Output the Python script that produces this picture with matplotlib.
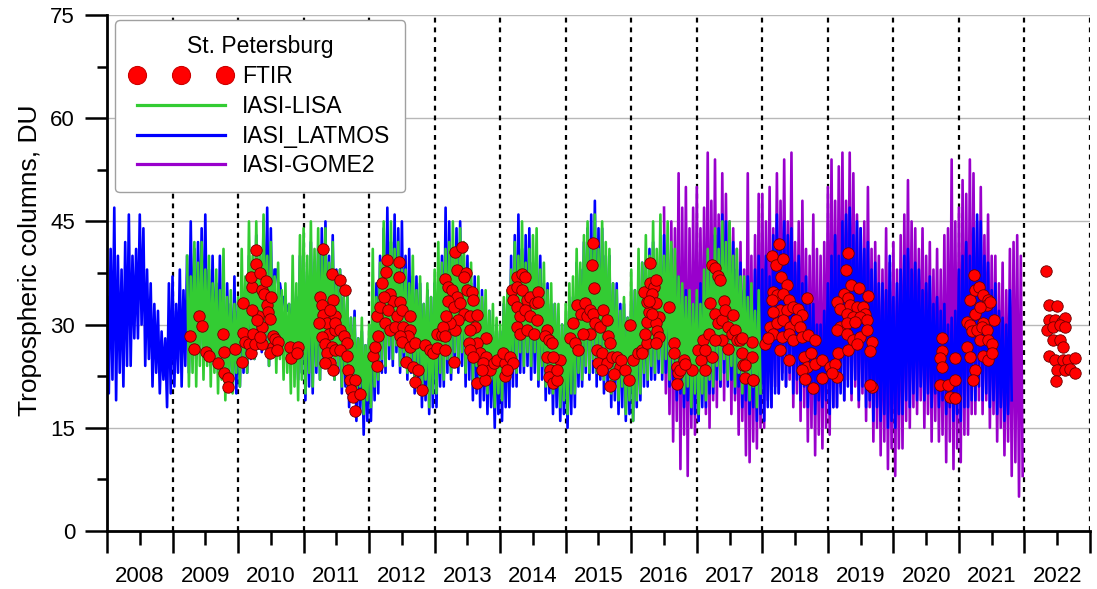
import numpy as np
import matplotlib
matplotlib.use("Agg")
import matplotlib.pyplot as plt
from matplotlib.lines import Line2D
from matplotlib.ticker import MultipleLocator

plt.rcParams['font.family'] = ['Liberation Sans', 'DejaVu Sans']

# ---------------- data ----------------
# Satellite series: per ~20-day bin, upper and lower value of the noisy band
PER_YEAR = 18

blue_start = 2008.0
blue_hi = [
    34, 41, 47, 40, 38, 42, 46, 40, 41, 46, 44, 38, 36, 33, 32, 29, 28, 36,   # 2008
    37, 33, 38, 35, 40, 45, 41, 42, 44, 46, 38, 40, 36, 40, 34, 36, 33, 37,   # 2009
    33, 36, 35, 40, 38, 43, 40, 45, 47, 44, 38, 36, 34, 32, 33, 35, 34, 40,   # 2010
    41, 37, 42, 39, 41, 44, 45, 40, 43, 38, 38, 34, 34, 31, 32, 28, 29, 27,   # 2011
    28, 33, 36, 40, 44, 47, 42, 46, 44, 45, 40, 41, 37, 37, 36, 33, 35, 34,   # 2012
    36, 34, 40, 47, 45, 41, 44, 45, 40, 40, 36, 37, 34, 35, 31, 32, 29, 30,   # 2013
    29, 33, 34, 40, 43, 46, 41, 43, 44, 39, 41, 40, 36, 36, 33, 33, 30, 30,   # 2014
    30, 33, 34, 39, 38, 42, 44, 46, 48, 44, 44, 40, 40, 36, 36, 33, 33, 31,   # 2015
    33, 35, 34, 39, 37, 41, 42, 39, 42, 43, 40, 41, 37, 37, 34, 35, 32, 33,   # 2016
    34, 36, 35, 40, 39, 43, 44, 46, 45, 41, 42, 38, 39, 35, 37, 34, 38, 40,   # 2017
    38, 40, 37, 43, 46, 42, 45, 43, 44, 39, 40, 36, 37, 33, 33, 30, 30, 32,   # 2018
    36, 40, 43, 40, 45, 46, 47, 43, 45, 44, 41, 42, 38, 39, 36, 36, 35, 40,   # 2019
    34, 36, 38, 40, 41, 38, 39, 38, 35, 36, 37, 33, 34, 32, 33, 30, 31, 32,   # 2020
    38, 40, 42, 40, 44, 46, 45, 40, 39, 35, 36, 32, 31, 30, 35,               # 2021
]
blue_lo = [
    20, 22, 19, 23, 21, 24, 24, 28, 28, 30, 24, 25, 21, 23, 20, 22, 18, 20,   # 2008
    21, 23, 21, 24, 23, 25, 25, 26, 24, 26, 24, 25, 23, 24, 22, 23, 21, 20,   # 2009
    21, 23, 23, 25, 25, 27, 26, 27, 24, 26, 38, 36, 34, 32, 26, 25, 22, 23,   # 2010
    19, 21, 20, 23, 22, 24, 24, 25, 22, 23, 20, 21, 18, 19, 16, 17, 14, 16,   # 2011
    16, 19, 20, 23, 23, 25, 24, 26, 23, 24, 22, 23, 20, 21, 18, 19, 17, 18,   # 2012
    18, 21, 21, 23, 22, 24, 23, 24, 21, 22, 19, 20, 18, 19, 17, 18, 15, 17,   # 2013
    16, 18, 18, 21, 21, 23, 23, 24, 22, 23, 21, 22, 19, 20, 17, 18, 16, 17,   # 2014
    15, 17, 18, 21, 21, 23, 22, 23, 21, 22, 20, 21, 18, 19, 17, 18, 16, 17,   # 2015
    16, 18, 19, 21, 21, 22, 22, 23, 22, 23, 21, 22, 19, 20, 18, 19, 17, 17,   # 2016
    16, 18, 18, 20, 20, 22, 21, 23, 21, 22, 20, 21, 18, 19, 17, 18, 16, 17,   # 2017
    16, 18, 18, 20, 20, 22, 21, 23, 20, 22, 19, 21, 18, 20, 17, 19, 18, 19,   # 2018
    17, 18, 18, 20, 19, 21, 20, 22, 19, 21, 18, 19, 16, 18, 16, 17, 15, 16,   # 2019
    15, 17, 17, 19, 18, 20, 19, 21, 19, 20, 18, 20, 18, 19, 17, 18, 16, 17,   # 2020
    16, 18, 18, 19, 19, 21, 19, 20, 18, 19, 17, 18, 16, 17, 19,               # 2021
]

green_start = 2009.0 + 4 / 18
green_hi = [
    40, 37, 42, 39, 42, 38, 40, 36, 38, 35, 41, 34, 35, 33,                   # 2009
    34, 41, 37, 45, 40, 45, 41, 46, 40, 42, 37, 39, 35, 36, 33, 40, 36, 43,   # 2010
    44, 40, 45, 41, 44, 40, 44, 39, 42, 37, 38, 34, 35, 31, 31, 28, 31, 27,   # 2011
    30, 41, 34, 39, 45, 40, 45, 41, 42, 38, 38, 36, 40, 35, 37, 33, 36, 34,   # 2012
    38, 42, 39, 41, 42, 45, 41, 44, 42, 38, 39, 35, 37, 34, 35, 32, 33, 31,   # 2013
    30, 34, 35, 38, 42, 40, 45, 39, 41, 43, 44, 38, 39, 35, 36, 33, 33, 30,   # 2014
    33, 36, 37, 41, 39, 43, 45, 42, 46, 41, 45, 42, 41, 36, 35, 32, 34, 31,   # 2015
    38, 35, 41, 39, 43, 40, 45, 41, 46, 40, 45, 42, 41, 37, 36, 34, 35, 33,   # 2016
    35, 33, 38, 41, 39, 44, 41, 45, 42, 45, 40, 41, 37, 37, 34, 36, 32, 35,   # 2017
]
green_lo = [
    21, 23, 21, 24, 22, 24, 21, 23, 20, 22, 19, 22, 20, 23,                   # 2009
    21, 24, 23, 26, 25, 28, 27, 28, 24, 26, 23, 25, 22, 23, 20, 21, 19, 22,   # 2010
    20, 23, 21, 24, 22, 25, 24, 26, 22, 24, 21, 23, 20, 22, 19, 21, 17, 19,   # 2011
    18, 21, 22, 25, 24, 27, 25, 27, 24, 26, 23, 25, 22, 24, 20, 22, 18, 20,   # 2012
    20, 23, 22, 25, 23, 26, 24, 26, 23, 25, 22, 24, 21, 23, 20, 22, 18, 20,   # 2013
    19, 22, 22, 24, 23, 26, 24, 26, 24, 26, 22, 24, 21, 23, 20, 21, 18, 19,   # 2014
    17, 20, 20, 23, 22, 24, 23, 25, 23, 25, 22, 24, 20, 22, 19, 21, 17, 19,   # 2015
    16, 19, 20, 23, 22, 24, 23, 25, 23, 25, 22, 24, 21, 23, 20, 21, 18, 20,   # 2016
    17, 20, 19, 22, 21, 24, 22, 25, 22, 24, 21, 23, 20, 22, 19, 21, 18, 20,   # 2017
]

purple_start = 2016.5
purple_hi = [
    47, 41, 45, 44, 52, 47, 50, 44, 47,                                       # 2016
    50, 44, 47, 55, 48, 54, 46, 52, 49, 45, 44, 41, 42, 38, 52, 40, 43, 49,   # 2017
    49, 45, 50, 44, 52, 48, 54, 45, 55, 42, 45, 48, 41, 40, 46, 41, 40, 42,   # 2018
    50, 54, 48, 53, 55, 48, 55, 52, 46, 44, 45, 50, 41, 42, 40, 38, 44, 39,   # 2019
    42, 38, 43, 46, 51, 45, 44, 41, 44, 40, 42, 38, 41, 38, 43, 44, 54, 45,   # 2020
    47, 51, 49, 54, 52, 45, 50, 43, 46, 40, 40, 36, 39, 35, 41, 42, 43, 40,   # 2021
]
purple_lo = [
    20, 17, 13, 16, 9, 14, 8, 15, 14,                                         # 2016
    16, 20, 17, 15, 19, 18, 21, 19, 22, 17, 19, 14, 16, 11, 10, 13, 12, 15,   # 2017
    15, 19, 18, 21, 20, 23, 21, 22, 18, 20, 16, 18, 13, 15, 11, 14, 12, 15,   # 2018
    14, 18, 18, 21, 19, 22, 19, 21, 18, 20, 16, 18, 13, 15, 11, 13, 9, 12,    # 2019
    8, 12, 12, 16, 15, 18, 17, 19, 15, 17, 13, 16, 13, 14, 10, 13, 9, 12,     # 2020
    10, 14, 14, 17, 17, 19, 17, 19, 15, 17, 13, 15, 11, 13, 8, 10, 5, 8,      # 2021
]

# FTIR observations (decimal year, DU)
ftir_t = [
    2009.26, 2009.41, 2009.45, 2009.32, 2009.51, 2009.55, 2009.70, 2009.77, 2009.78, 2009.79, 2009.84, 2009.85, 2009.95,
    2010.06, 2010.08, 2010.08, 2010.11, 2010.16, 2010.19, 2010.21, 2010.19, 2010.28, 2010.28, 2010.33, 2010.36, 2010.40,
    2010.42, 2010.44, 2010.46, 2010.49, 2010.51, 2010.53, 2010.53, 2010.49, 2010.36, 2010.31, 2010.23, 2010.26, 2010.36,
    2010.21, 2010.33, 2010.29, 2010.57, 2010.61, 2010.59, 2010.79, 2010.81, 2010.92, 2010.90,
    2011.30, 2011.25, 2011.28, 2011.30, 2011.35, 2011.23, 2011.38, 2011.28, 2011.33, 2011.43, 2011.35, 2011.40, 2011.45,
    2011.33, 2011.48, 2011.48, 2011.48, 2011.43, 2011.56, 2011.63, 2011.45, 2011.40, 2011.48, 2011.56, 2011.61, 2011.66,
    2011.56, 2011.66, 2011.68, 2011.71, 2011.79, 2011.73, 2011.76, 2011.86, 2011.79,
    2012.06, 2012.12, 2012.09, 2012.14, 2012.12, 2012.17, 2012.19, 2012.27, 2012.26, 2012.45, 2012.46, 2012.32, 2012.37,
    2012.22, 2012.29, 2012.42, 2012.47, 2012.50, 2012.24, 2012.32, 2012.40, 2012.52, 2012.62, 2012.62, 2012.60, 2012.47,
    2012.50, 2012.62, 2012.70, 2012.57, 2012.67, 2012.75, 2012.70, 2012.80, 2012.85, 2012.93, 2012.98,
    2013.03, 2013.03, 2013.11, 2013.16, 2013.29, 2013.16, 2013.21, 2013.26, 2013.31, 2013.41, 2013.34, 2013.48, 2013.44,
    2013.49, 2013.57, 2013.59, 2013.34, 2013.21, 2013.29, 2013.39, 2013.44, 2013.54, 2013.64, 2013.62, 2013.54, 2013.36,
    2013.31, 2013.23, 2013.13, 2013.16, 2013.18, 2013.79, 2013.64, 2013.69, 2013.79, 2013.74, 2013.85, 2013.90, 2013.64,
    2013.77, 2013.52, 2013.54, 2013.59, 2013.72, 2013.95,
    2014.07, 2014.07, 2014.05, 2014.15, 2014.20, 2014.10, 2014.18, 2014.25, 2014.33, 2014.38, 2014.25, 2014.33, 2014.41,
    2014.46, 2014.58, 2014.20, 2014.25, 2014.30, 2014.38, 2014.46, 2014.53, 2014.58, 2014.25, 2014.30, 2014.41, 2014.51,
    2014.56, 2014.71, 2014.68, 2014.74, 2014.71, 2014.76, 2014.74, 2014.81, 2014.86, 2014.91, 2014.86, 2014.79, 2014.81,
    2015.07, 2015.14, 2015.19, 2015.17, 2015.29, 2015.24, 2015.32, 2015.37, 2015.42, 2015.40, 2015.42, 2015.43, 2015.45,
    2015.52, 2015.57, 2015.63, 2015.65, 2015.68, 2015.47, 2015.55, 2015.50, 2015.63, 2015.70, 2015.78, 2015.83, 2015.85,
    2015.68, 2015.73, 2015.91, 2015.96, 2015.98, 2015.55, 2015.37, 2015.27, 2015.11,
    2016.03, 2016.11, 2016.16, 2016.16, 2016.24, 2016.21, 2016.24, 2016.27, 2016.24, 2016.19, 2016.29, 2016.34, 2016.37,
    2016.29, 2016.32, 2016.37, 2016.42, 2016.37, 2016.39, 2016.42, 2016.37, 2016.32, 2016.27, 2016.57, 2016.65, 2016.65,
    2016.70, 2016.72, 2016.70, 2016.75, 2016.80, 2016.93, 2016.82,
    2017.02, 2017.07, 2017.12, 2017.10, 2017.18, 2017.20, 2017.23, 2017.28, 2017.33, 2017.36, 2017.28, 2017.33, 2017.38,
    2017.41, 2017.43, 2017.48, 2017.53, 2017.56, 2017.58, 2017.61, 2017.48, 2017.66, 2017.69, 2017.71, 2017.74, 2017.84,
    2017.84, 2017.86, 2017.38, 2017.28, 2017.23, 2017.12, 2017.69, 2017.74, 2017.85,
    2018.04, 2018.25, 2018.15, 2018.21, 2018.31, 2018.29, 2018.37, 2018.17, 2018.22, 2018.14, 2018.32, 2018.40, 2018.27,
    2018.17, 2018.37, 2018.47, 2018.55, 2018.60, 2018.68, 2018.12, 2018.22, 2018.32, 2018.42, 2018.52, 2018.58, 2018.17,
    2018.30, 2018.40, 2018.47, 2018.60, 2018.70, 2018.80, 2018.27, 2018.40, 2018.09, 2018.63, 2018.75, 2018.68, 2018.80,
    2018.91, 2018.60, 2018.65, 2018.78, 2018.91,
    2019.03, 2019.11, 2019.14, 2019.06, 2019.16, 2019.31, 2019.28, 2019.36, 2019.47, 2019.62, 2019.24, 2019.31, 2019.14,
    2019.19, 2019.34, 2019.44, 2019.54, 2019.57, 2019.29, 2019.39, 2019.49, 2019.19, 2019.29, 2019.42, 2019.59, 2019.14,
    2019.29, 2019.39, 2019.49, 2019.59, 2019.67, 2019.31, 2019.44, 2019.64, 2019.67, 2019.64,
    2020.74, 2020.74, 2020.71, 2020.74, 2020.94, 2020.71, 2020.84, 2020.94, 2020.86, 2020.94,
    2021.23, 2021.17, 2021.25, 2021.30, 2021.37, 2021.45, 2021.43, 2021.48, 2021.25, 2021.32, 2021.53, 2021.37, 2021.12,
    2021.17, 2021.20, 2021.27, 2021.35, 2021.43, 2021.32, 2021.45, 2021.50, 2021.12, 2021.17, 2021.37, 2021.45, 2021.25,
    2021.22, 2021.50,
    2022.33, 2022.38, 2022.50, 2022.37, 2022.47, 2022.57, 2022.62, 2022.34, 2022.44, 2022.54, 2022.62, 2022.44, 2022.54,
    2022.59, 2022.37, 2022.47, 2022.59, 2022.67, 2022.77, 2022.49, 2022.62, 2022.70, 2022.77, 2022.48,
]
ftir_v = [
    28.4, 31.3, 29.8, 26.4, 26.0, 25.4, 24.4, 28.6, 26.0, 23.0, 22.3, 21.0, 26.4,
    24.5, 33.1, 28.8, 27.5, 27.2, 25.8, 35.5, 36.9, 40.8, 38.8, 37.5, 35.0, 34.5,
    36.3, 32.8, 31.9, 30.8, 34.0, 28.4, 26.8, 25.8, 29.7, 31.2, 28.7, 27.2, 27.2,
    32.1, 28.2, 30.7, 27.9, 27.5, 26.3, 26.8, 25.1, 26.7, 25.8,
    41.0, 34.0, 32.8, 31.4, 30.2, 30.2, 28.7, 28.2, 27.2, 26.8, 25.8, 24.4, 23.4,
    24.4, 31.2, 29.2, 26.3, 37.4, 36.5, 35.0, 33.6, 32.1, 30.2, 29.2, 28.3, 27.3,
    26.3, 25.4, 23.4, 22.0, 22.0, 20.5, 19.5, 19.9, 17.5,
    25.4, 24.0, 26.8, 28.3, 31.2, 32.6, 36.0, 39.4, 37.7, 39.1, 36.9, 34.5, 33.5,
    34.0, 32.1, 31.2, 33.3, 32.1, 30.2, 29.2, 29.7, 29.7, 31.2, 29.2, 28.3, 28.3,
    27.5, 26.8, 27.3, 24.6, 23.9, 23.4, 21.7, 20.5, 27.0, 26.3, 25.8,
    26.6, 28.7, 28.5, 26.3, 24.6, 36.7, 35.5, 35.0, 40.6, 41.3, 37.9, 37.5, 36.9,
    35.0, 34.8, 33.6, 34.0, 33.5, 32.6, 33.1, 31.6, 31.2, 31.4, 29.7, 29.2, 30.7,
    29.2, 30.2, 29.7, 28.3, 31.2, 28.0, 27.3, 25.8, 25.3, 24.4, 23.4, 24.4, 21.5,
    22.0, 27.3, 26.3, 25.3, 23.4, 24.9,
    22.6, 24.4, 25.8, 25.3, 24.4, 23.4, 35.0, 36.9, 37.4, 36.9, 35.5, 35.0, 33.6,
    34.0, 34.8, 33.6, 32.6, 31.2, 32.1, 31.2, 33.1, 33.3, 29.7, 28.7, 29.2, 28.7,
    30.7, 29.2, 28.3, 27.8, 25.3, 23.4, 22.4, 21.5, 22.0, 24.8, 23.4, 27.3, 25.3,
    28.0, 27.3, 26.3, 32.8, 33.1, 31.6, 31.2, 32.1, 31.6, 38.6, 41.8, 35.3, 30.2,
    29.7, 32.1, 30.7, 28.3, 27.3, 26.3, 25.8, 24.4, 24.4, 25.3, 25.3, 23.9, 24.8,
    21.1, 22.8, 23.4, 22.0, 29.9, 23.4, 28.7, 28.7, 30.2,
    24.8, 25.8, 26.3, 25.8, 27.3, 28.7, 30.4, 31.9, 33.3, 34.8, 36.0, 35.5, 36.5,
    39.0, 34.5, 33.1, 31.1, 30.2, 29.0, 28.2, 27.3, 31.6, 33.5, 32.6, 27.3, 25.8,
    23.9, 22.9, 21.4, 23.4, 24.8, 23.4, 24.3,
    26.3, 24.8, 23.4, 27.7, 28.7, 33.1, 38.7, 38.2, 37.0, 36.5, 31.6, 30.2, 30.7,
    33.5, 32.1, 29.7, 28.7, 31.4, 29.2, 27.7, 26.5, 27.7, 25.8, 24.1, 22.2, 27.5,
    25.3, 21.9, 27.7, 27.7, 25.3, 26.3, 28.0, 24.1, 21.9,
    27.2, 41.7, 39.9, 38.7, 39.6, 36.9, 35.8, 34.8, 34.3, 33.6, 34.5, 33.6, 32.1,
    31.9, 32.1, 32.6, 32.3, 31.4, 33.9, 29.7, 30.2, 30.7, 29.7, 30.7, 29.7, 28.7,
    28.2, 28.7, 27.7, 28.2, 28.5, 27.7, 26.3, 24.8, 28.0, 25.3, 25.8, 23.9, 24.3,
    24.8, 23.4, 22.1, 20.8, 22.2,
    23.9, 24.3, 22.4, 22.9, 25.8, 40.4, 37.9, 35.8, 35.3, 34.2, 34.5, 33.8, 33.3,
    32.3, 32.8, 32.6, 32.6, 31.6, 31.6, 31.1, 31.1, 29.7, 30.2, 30.4, 30.7, 29.2,
    28.7, 27.7, 28.2, 29.2, 27.5, 26.3, 27.2, 26.1, 20.9, 21.2,
    28.0, 26.1, 25.1, 23.9, 25.1, 21.2, 21.2, 21.9, 19.5, 19.3,
    37.2, 33.6, 35.0, 35.5, 34.3, 33.6, 32.8, 33.3, 31.6, 32.6, 30.7, 30.2, 30.4,
    29.9, 29.0, 29.2, 29.7, 29.2, 27.7, 27.7, 27.2, 26.7, 25.3, 25.5, 24.8, 23.4,
    21.9, 25.8,
    37.8, 32.8, 32.7, 30.6, 30.6, 30.4, 30.9, 29.2, 29.7, 30.0, 29.7, 27.7, 27.7,
    26.7, 25.4, 24.8, 24.8, 24.8, 25.1, 23.4, 23.4, 23.6, 22.9, 21.8,
]

years = list(range(2008, 2023))
year_labels = [str(y) for y in years]

GREEN = '#33cc33'
BLUE = '#0000ff'
PURPLE = '#9900cc'
RED = '#ff0000'


def band_series(start, hi, lo):
    """Interleave the upper and lower readings of each bin into one line."""
    t, v = [], []
    for i, (h, l) in enumerate(zip(hi, lo)):
        t.extend([start + i / PER_YEAR, start + (i + 0.5) / PER_YEAR])
        v.extend([h, l])
    return np.array(t), np.array(v)


# ---------------- figure ----------------
W, H = 1097, 589
fig = plt.figure(figsize=(W / 100, H / 100), dpi=100)
ax = fig.add_axes([107 / W, 58 / H, 983 / W, 516 / H])

tp, vp = band_series(purple_start, purple_hi, purple_lo)
tb, vb = band_series(blue_start, blue_hi, blue_lo)
tg, vg = band_series(green_start, green_hi, green_lo)
LW = 1.9
ax.plot(tp, vp, color=PURPLE, lw=LW, zorder=2)
ax.plot(tb, vb, color=BLUE, lw=LW, zorder=3)
ax.plot(tg, vg, color=GREEN, lw=LW, zorder=4)
ax.scatter(ftir_t, ftir_v, s=68, c=RED, edgecolors='#6a0000', linewidths=0.6, zorder=5)

ax.set_xlim(2008, 2023)
ax.set_ylim(0, 75)

# grid
for yv in [15, 30, 45, 60, 75]:
    ax.axhline(yv, color='#b8b8b8', lw=1.0, zorder=0.5)
for yr in range(2009, 2024):
    ax.axvline(yr, color='black', lw=1.6, ls=(0, (2.2, 2.2)), zorder=1)

# spines
for s in ['top', 'right']:
    ax.spines[s].set_visible(False)
for s in ['left', 'bottom']:
    ax.spines[s].set_linewidth(2.0)
    ax.spines[s].set_zorder(6)

# ticks
ax.set_yticks([0, 15, 30, 45, 60, 75])
ax.yaxis.set_minor_locator(MultipleLocator(7.5))
ax.tick_params(axis='y', which='major', length=16, width=1.8, pad=7, labelsize=16, direction='out')
ax.tick_params(axis='y', which='minor', length=7.5, width=1.8, direction='out')

ax.set_xticks(np.arange(2008, 2024))
ax.set_xticklabels([])
ax.set_xticks(np.array(years) + 0.5, minor=True)
ax.set_xticklabels(year_labels, minor=True)
ax.tick_params(axis='x', which='major', length=16, width=1.8, direction='out')
ax.tick_params(axis='x', which='minor', length=10, width=1.8, pad=15, labelsize=16, direction='out')

fig.text(30 / W, 1 - 260 / H, 'Tropospheric columns, DU', rotation=90,
         ha='center', va='center', fontsize=19)

# legend
handles = [
    Line2D([], [], ls='none', marker='o', ms=13, mfc=RED, mec='#cc0000', mew=0.8),
    Line2D([], [], color=GREEN, lw=2.3),
    Line2D([], [], color=BLUE, lw=2.3),
    Line2D([], [], color=PURPLE, lw=2.3),
]
labels = ['FTIR', 'IASI-LISA', 'IASI_LATMOS', 'IASI-GOME2']
leg = ax.legend(handles, labels, title='St. Petersburg', loc='upper left',
                bbox_to_anchor=(115 / W, 1 - 20 / H), bbox_transform=fig.transFigure,
                numpoints=3, fontsize=16.5, title_fontsize=16.5, handlelength=4.45,
                handletextpad=0.45, labelspacing=0.3, borderpad=0.65,
                frameon=True, fancybox=True, framealpha=1, edgecolor='#a0a0a0',
                borderaxespad=0)
leg.get_frame().set_linewidth(1.0)
leg.set_zorder(10)

fig.savefig('out.png', dpi=100)
